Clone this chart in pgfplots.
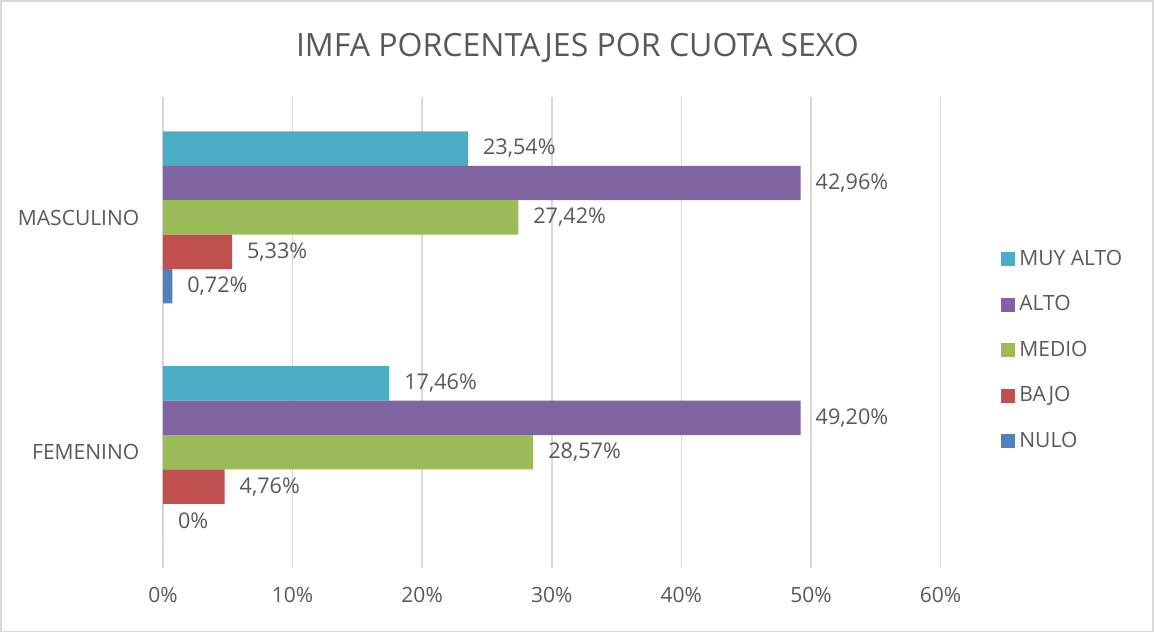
\documentclass[border=0pt]{standalone}
\usepackage{pgfplots}
\pgfplotsset{compat=1.18}
\usepackage{fontspec}
\setmainfont{Open Sans}

\definecolor{cMuy}{HTML}{4BACC6}
\definecolor{cAlto}{HTML}{8064A2}
\definecolor{cMedio}{HTML}{9BBB59}
\definecolor{cBajo}{HTML}{C0504D}
\definecolor{cNulo}{HTML}{4F81BD}
\definecolor{txt}{HTML}{595959}
\definecolor{gridc}{HTML}{D9D9D9}

\begin{document}
\begin{tikzpicture}
\begin{axis}[
    xbar,
    scale only axis,
    width=388.5pt, height=235.5pt,
    xmin=0, xmax=60,
    ymin=-0.496, ymax=1.517,
    bar width=0.147,
    xtick={0,10,...,60},
    xticklabel={\pgfmathprintnumber{\tick}\%},
    ytick={0,1},
    yticklabels={FEMENINO, MASCULINO},
    tick style={draw=none},
    axis line style={draw=none},
    xmajorgrids,
    grid style={gridc, line width=0.8pt},
    ticklabel style={font=\fontsize{10.5}{12}\selectfont, text=txt},
    /pgf/number format/assume math mode=true,
    xticklabel shift=6pt,
    yticklabel shift=4pt,
    nodes near coords,
    point meta=explicit symbolic,
    every node near coord/.append style={font=\fontsize{10.8}{12}\selectfont, text=txt, anchor=west, xshift=4pt},
    legend style={at={(1.07,0.463)}, anchor=west, draw=none, fill=none,
        font=\fontsize{10.5}{12}\selectfont, text=txt,
        row sep=9.6pt, /tikz/every even column/.append style={column sep=2pt}},
    legend cell align=left,
    legend image code/.code={\fill[#1] (0cm,-3.5pt) rectangle (7pt,3.5pt);},
    title={IMFA PORCENTAJES POR CUOTA SEXO},
    title style={at={(0.533,1.078)}, anchor=center, font=\fontsize{16}{18}\selectfont, text=txt},
    clip=false,
]
\addplot[fill=cMuy, draw=none, bar shift=0.294] coordinates {(23.54,1.003) [23,54\%] (17.46,0) [17,46\%]};
\addplot[fill=cAlto, draw=none, bar shift=0.147] coordinates {(49.20,1.003) [42,96\%] (49.20,0) [49,20\%]};
\addplot[fill=cMedio, draw=none, bar shift=0] coordinates {(27.42,1.003) [27,42\%] (28.57,0) [28,57\%]};
\addplot[fill=cBajo, draw=none, bar shift=-0.147] coordinates {(5.33,1.003) [5,33\%] (4.76,0) [4,76\%]};
\addplot[fill=cNulo, draw=none, bar shift=-0.294] coordinates {(0.72,1.003) [0,72\%] (0,0) [0\%]};
\legend{MUY ALTO, ALTO, MEDIO, BAJO, NULO}
\draw[gridc, line width=0.8pt] (rel axis cs:-0.2085,-0.1338) rectangle (rel axis cs:1.2735,1.2042);
\end{axis}
\end{tikzpicture}
\end{document}
